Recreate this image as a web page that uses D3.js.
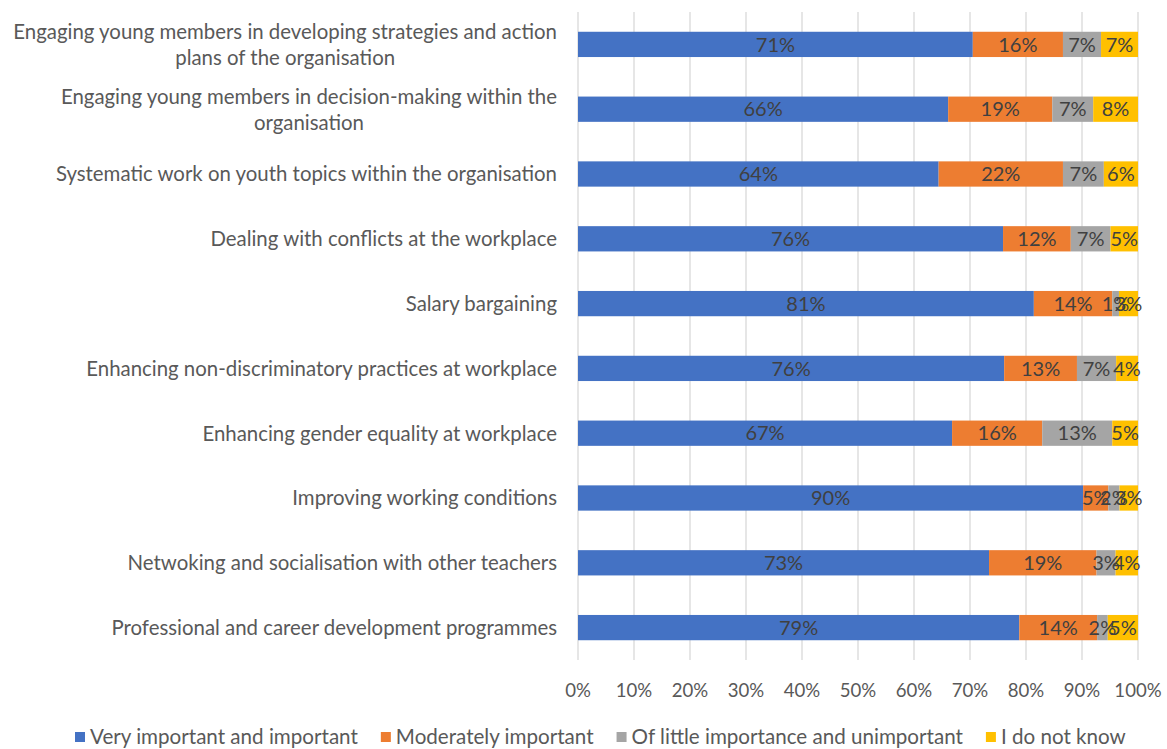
<!DOCTYPE html>
<html lang="en">
<head>
<meta charset="utf-8">
<title>youth priorities</title>
<style type="text/css">
  body { margin: 0px; padding: 0px; background: white; }
  svg text { font-family: Lato, "Open Sans", sans-serif; }
</style>
<script src="https://d3js.org/d3.v7.min.js"></script>
</head>
<body>
<div id="root"></div>
<script>
  var categories = [
    "Engaging young members in developing strategies and action|plans of the organisation",
    "Engaging young members in decision-making within the|organisation",
    "Systematic work on youth topics within the organisation",
    "Dealing with conflicts at the workplace",
    "Salary bargaining",
    "Enhancing non-discriminatory practices at workplace",
    "Enhancing gender equality at workplace",
    "Improving working conditions",
    "Netwoking and socialisation with other teachers",
    "Professional and career development programmes"
  ];
  var seriesNames = ["Very important and important", "Moderately important",
    "Of little importance and unimportant", "I do not know"];
  var colors = ["#4472C4", "#ED7D31", "#A5A5A5", "#FFC000"];

  // percentages per series, one per category (top to bottom)
  var veryImportant = [70.5, 66.1, 64.4, 75.9, 81.4, 76.1, 66.8, 90.2, 73.4, 78.8];
  var moderately    = [16.1, 18.6, 22.2, 12.1, 14.0, 13.0, 16.1, 4.5, 19.2, 13.9];
  var littleImport  = [6.8, 7.3, 7.3, 7.1, 1.2, 7.0, 12.5, 2.0, 3.4, 1.9];
  var doNotKnow     = [6.6, 8.0, 6.1, 4.9, 3.4, 3.9, 4.6, 3.3, 4.0, 5.4];
  var seriesValues = [veryImportant, moderately, littleImport, doNotKnow];
  var ticks = [0, 10, 20, 30, 40, 50, 60, 70, 80, 90, 100];

  var W = 1167, H = 749;
  var plotLeft = 578, plotRight = 1138, plotTop = 12, plotBottom = 660;

  var svg = d3.select("#root").append("svg")
      .attr("width", W).attr("height", H);

  var x = d3.scaleLinear().domain([0, 100]).range([plotLeft, plotRight]);
  var y = d3.scaleBand().domain(d3.range(categories.length))
      .range([plotTop, plotBottom]).paddingInner(0.61).paddingOuter(0.305);

  // gridlines
  svg.append("g").selectAll("line").data(ticks).enter().append("line")
      .attr("x1", function(d) { return x(d); }).attr("x2", function(d) { return x(d); })
      .attr("y1", plotTop).attr("y2", plotBottom)
      .attr("stroke", "#d9d9d9").attr("stroke-width", 1.3);

  // stacked data
  var rows = categories.map(function(c, i) {
    var o = { i: i };
    seriesValues.forEach(function(s, k) { o["s" + k] = s[i]; });
    return o;
  });
  var stack = d3.stack().keys(seriesValues.map(function(s, k) { return "s" + k; }))(rows);

  var layers = svg.append("g").selectAll("g").data(stack).enter().append("g")
      .attr("fill", function(d, k) { return colors[k]; });

  layers.selectAll("rect").data(function(d) { return d; }).enter().append("rect")
      .attr("x", function(d) { return x(d[0]); })
      .attr("width", function(d) { return x(d[1]) - x(d[0]); })
      .attr("y", function(d) { return y(d.data.i); })
      .attr("height", y.bandwidth());

  // data labels
  var labels = svg.append("g");
  stack.forEach(function(layer) {
    layer.forEach(function(d) {
      labels.append("text")
        .attr("x", (x(d[0]) + x(d[1])) / 2)
        .attr("y", y(d.data.i) + y.bandwidth() / 2)
        .attr("dy", "0.36em")
        .attr("text-anchor", "middle")
        .style("font-size", "20px")
        .attr("fill", "#404040")
        .text(Math.round(d[1] - d[0]) + "%");
    });
  });

  // category labels
  var cat = svg.append("g");
  categories.forEach(function(c, i) {
    var lines = c.split("|");
    var cy = y(i) + y.bandwidth() / 2;
    var t = cat.append("text")
      .attr("text-anchor", "middle")
      .style("font-size", "20.4px")
      .attr("fill", "#595959");
    if (lines.length === 1) {
      t.attr("text-anchor", "end").attr("x", 557).attr("y", cy).attr("dy", "0.36em").text(c);
    } else {
      var tmp = t.append("tspan").text(lines[0]);
      var w = tmp.node().getComputedTextLength();
      tmp.remove();
      var cx = 557 - w / 2;
      lines.forEach(function(l, j) {
        t.append("tspan").attr("x", cx).attr("y", cy + (j - 0.5) * 26).attr("dy", "0.36em").text(l);
      });
    }
  });

  // x axis tick labels
  svg.append("g").selectAll("text").data(ticks).enter().append("text")
      .attr("x", function(d) { return x(d); }).attr("y", 690)
      .attr("dy", "0.36em").attr("text-anchor", "middle")
      .style("font-size", "18.6px").attr("fill", "#595959")
      .text(function(d) { return d + "%"; });

  // legend
  var legend = svg.append("g");
  var lx = 75;
  seriesNames.forEach(function(n, k) {
    legend.append("rect").attr("x", lx).attr("y", 732).attr("width", 10).attr("height", 10)
      .attr("fill", colors[k]);
    var t = legend.append("text").attr("x", lx + 15).attr("y", 737).attr("dy", "0.36em")
      .style("font-size", "20.6px").attr("fill", "#595959").text(n);
    lx += 15 + t.node().getComputedTextLength() + 23;
  });
</script>
</body>
</html>
